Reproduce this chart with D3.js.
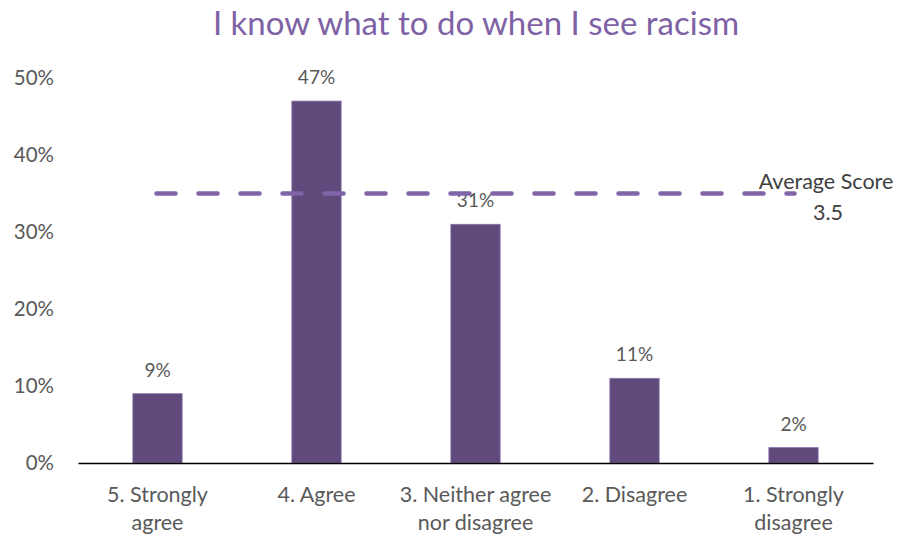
<!DOCTYPE html>
<html>
<head>
<meta charset="utf-8">
<script src="https://cdn.jsdelivr.net/npm/d3@7"></script>
<style>
  html, body { margin: 0; padding: 0; background: #ffffff; }
  svg { display: block; }
  text { font-family: Lato, "Open Sans", sans-serif; }
</style>
</head>
<body>
<svg id="chart" width="898" height="539"></svg>
<script>
// Survey responses
const categories = [
  ["5. Strongly", "agree"],
  ["4. Agree"],
  ["3. Neither agree", "nor disagree"],
  ["2. Disagree"],
  ["1. Strongly", "disagree"]
];
const shares = [9, 47, 31, 11, 2];          // percent of respondents
const yTicks = [0, 10, 20, 30, 40, 50];     // percent
const averageLinePct = 35;                  // height of the average marker
const averageLabel = ["Average Score", "3.5"];
const titleText = "I know what to do when I see racism";

const svg = d3.select("#chart");
const W = 898, H = 539;
const margin = { left: 78, right: 25, top: 78, bottom: 76 };

const keys = categories.map((c, i) => i);
const x = d3.scaleBand()
  .domain(keys)
  .range([margin.left, W - margin.right])
  .paddingInner(0.69)
  .paddingOuter(0.345);

const y = d3.scaleLinear()
  .domain([0, 50])
  .range([H - margin.bottom, margin.top]);

// Title
svg.append("text")
  .attr("x", 476)
  .attr("y", 35)
  .attr("text-anchor", "middle")
  .attr("fill", "#7e62a5")
  .attr("font-size", 33)
  .attr("font-weight", 400)
  .text(titleText);

// Y axis labels (no axis line)
const yAxis = d3.axisLeft(y)
  .tickValues(yTicks)
  .tickFormat(d => d + "%")
  .tickSize(0)
  .tickPadding(0);
const yg = svg.append("g")
  .attr("transform", `translate(54,0)`)
  .call(yAxis);
yg.select(".domain").remove();
yg.selectAll("text")
  .attr("fill", "#595959")
  .attr("font-size", 20.5)
  .attr("font-family", "Lato, 'Open Sans', sans-serif");

// Bars
svg.append("g").selectAll("rect")
  .data(shares)
  .join("rect")
  .attr("x", (d, i) => x(i))
  .attr("y", d => y(d))
  .attr("width", x.bandwidth())
  .attr("height", d => y(0) - y(d))
  .attr("fill", "#5f4a7b")
  .attr("stroke", "#8a72ad")
  .attr("stroke-width", 0.8);

// Value labels
svg.append("g").selectAll("text")
  .data(shares)
  .join("text")
  .attr("x", (d, i) => x(i) + x.bandwidth() / 2)
  .attr("y", d => y(d) - 17)
  .attr("text-anchor", "middle")
  .attr("fill", "#595959")
  .attr("font-size", 19)
  .text(d => d + "%");

// X axis
const xAxis = d3.axisBottom(x).tickSize(0).tickFormat("");
const xg = svg.append("g")
  .attr("transform", `translate(0,${y(0)})`)
  .call(xAxis);
xg.select(".domain")
  .attr("stroke", "#000")
  .attr("stroke-width", 1.6);

// Category labels (wrapped onto two lines)
const catG = svg.append("g").selectAll("text")
  .data(categories)
  .join("text")
  .attr("text-anchor", "middle")
  .attr("fill", "#595959")
  .attr("font-size", 21.5);
catG.each(function(lines, i) {
  const t = d3.select(this);
  lines.forEach((ln, k) => {
    t.append("tspan")
      .attr("x", x(i) + x.bandwidth() / 2)
      .attr("y", y(0) + 39 + k * 28)
      .text(ln);
  });
});

// Average score dashed line, from first to last category centre
const cx0 = x(0) + x.bandwidth() / 2;
const cx1 = x(keys.length - 1) + x.bandwidth() / 2;
svg.append("line")
  .attr("x1", cx0 - 1)
  .attr("x2", cx1 + 1)
  .attr("y1", y(averageLinePct))
  .attr("y2", y(averageLinePct))
  .attr("stroke", "#8064a8")
  .attr("stroke-width", 4.5)
  .attr("stroke-linecap", "round")
  .attr("stroke-dasharray", "19,23");

const avgT = svg.append("text")
  .attr("text-anchor", "middle")
  .attr("fill", "#404040")
  .attr("font-size", 21.5);
avgT.append("tspan").attr("x", 826).attr("y", y(averageLinePct) - 5).text(averageLabel[0]);
avgT.append("tspan").attr("x", 828).attr("y", y(averageLinePct) + 26).text(averageLabel[1]);
</script>
</body>
</html>
